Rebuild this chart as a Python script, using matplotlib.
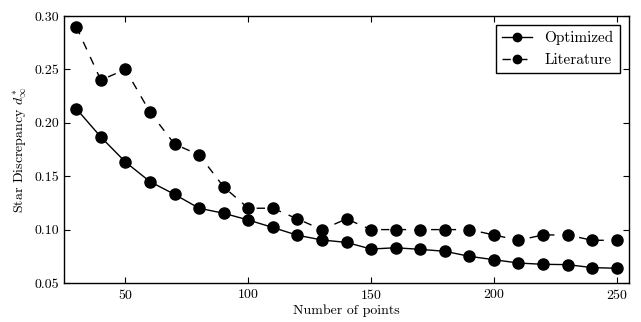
import matplotlib
matplotlib.use("Agg")
import matplotlib.pyplot as plt

plt.rcParams['font.family'] = 'serif'
plt.rcParams['font.serif'] = ['cmr10', 'DejaVu Serif']
plt.rcParams['mathtext.fontset'] = 'cm'
plt.rcParams['axes.formatter.use_mathtext'] = True
plt.rcParams['axes.unicode_minus'] = False

n_points = [30, 40, 50, 60, 70, 80, 90, 100, 110, 120, 130, 140, 150, 160,
            170, 180, 190, 200, 210, 220, 230, 240, 250]
optimized = [0.2132, 0.1867, 0.1633, 0.1449, 0.1330, 0.1200, 0.1153, 0.1090,
             0.1020, 0.0947, 0.0903, 0.0880, 0.0818, 0.0830, 0.0815, 0.0797,
             0.0750, 0.0718, 0.0687, 0.0675, 0.0672, 0.0644, 0.0638]
literature = [0.29, 0.24, 0.25, 0.21, 0.18, 0.17, 0.14, 0.12, 0.12, 0.11,
              0.10, 0.11, 0.10, 0.10, 0.10, 0.10, 0.10, 0.095, 0.09, 0.095,
              0.095, 0.09, 0.09]
x_ticks = [50, 100, 150, 200, 250]
y_ticks = [0.05, 0.10, 0.15, 0.20, 0.25, 0.30]

fig = plt.figure(figsize=(6.41, 3.22), dpi=100)
ax = fig.add_axes([64/641, 1 - 283/322, (629-64)/641, (283-16)/322])

ax.plot(n_points, optimized, '-', color='black', marker='o', markersize=8,
        linewidth=1.0, label='Optimized')
ax.plot(n_points, literature, '--', color='black', marker='o', markersize=8,
        linewidth=1.0, dashes=(6, 6), label='Literature')

ax.set_xlim(25, 255)
ax.set_ylim(0.05, 0.30)
ax.set_xticks(x_ticks)
ax.set_yticks(y_ticks)
ax.set_yticklabels(['%.2f' % v for v in y_ticks])
ax.tick_params(direction='in', top=True, right=True, length=4, labelsize=10)
for s in ax.spines.values():
    s.set_linewidth(1.0)

ax.set_xlabel('Number of points', fontsize=10, labelpad=2)
ax.set_ylabel(r'Star Discrepancy $d^*_\infty$', fontsize=10)

leg = ax.legend(loc='upper right', fancybox=False, edgecolor='black',
                fontsize=11, numpoints=1, handlelength=2.0, borderaxespad=0.6,
                markerscale=0.75)
leg.get_frame().set_linewidth(1.0)
leg.get_frame().set_alpha(1)

fig.savefig('out.png', dpi=100)
